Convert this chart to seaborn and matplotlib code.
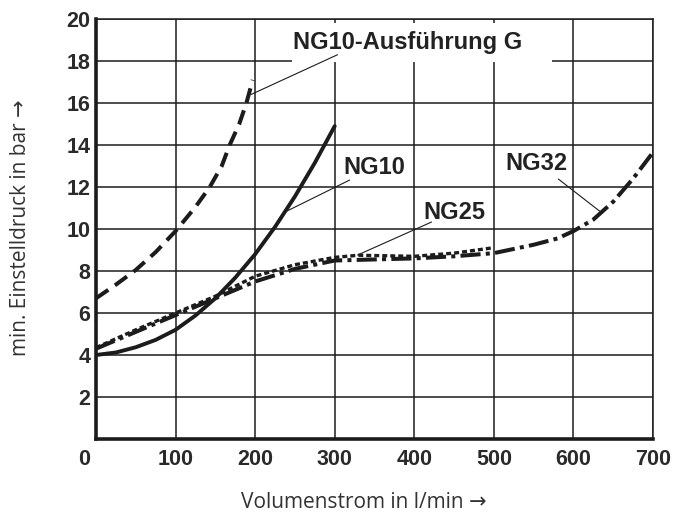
import matplotlib
matplotlib.use("Agg")
import matplotlib.pyplot as plt
import matplotlib.transforms as mtransforms
from matplotlib.patches import Rectangle
import seaborn as sns

# ---- data ----
g_x = [0, 25, 50, 75, 100, 125, 143, 158, 168, 180, 189, 197]
g_y = [6.7, 7.35, 8.05, 8.9, 9.9, 11.05, 12.0, 13.0, 14.0, 15.0, 16.0, 17.1]

ng10_x = [0, 25, 50, 75, 100, 125, 150, 175, 200, 225, 250, 275, 300]
ng10_y = [4.0, 4.12, 4.37, 4.72, 5.2, 5.88, 6.7, 7.68, 8.8, 10.1, 11.55, 13.15, 14.9]

ng25_x = [0, 50, 100, 150, 200, 250, 300, 330, 400, 450, 498]
ng25_y = [4.35, 5.2, 6.0, 6.8, 7.75, 8.3, 8.65, 8.75, 8.7, 8.85, 9.1]

ng32_x = [0, 50, 100, 150, 200, 250, 300, 350, 400, 450, 500, 550, 580, 600, 625, 650, 675, 698]
ng32_y = [4.3, 5.1, 5.9, 6.7, 7.5, 8.1, 8.5, 8.55, 8.6, 8.7, 8.85, 9.25, 9.55, 9.9, 10.45, 11.3, 12.4, 13.55]

x_ticks = [0, 100, 200, 300, 400, 500, 600, 700]
y_ticks = [2, 4, 6, 8, 10, 12, 14, 16, 18, 20]

labels = ["NG10-Ausführung G", "NG10", "NG25", "NG32"]
x_label = "Volumenstrom in l/min →"
y_label = "min. Einstelldruck in bar →"

# ---- style ----
sns.set_style("white")
plt.rcParams["font.family"] = ["Liberation Sans", "DejaVu Sans"]

ink = "#1c1c1c"
fig = plt.figure(figsize=(6.84, 5.13), dpi=100)
ax = fig.add_axes([96 / 684, 74 / 513, 557 / 684, 420 / 513])

sns.lineplot(x=g_x, y=g_y, ax=ax, color=ink, linewidth=2.9,
             linestyle=(0, (3.7, 2.0)), estimator=None, sort=False, zorder=3)
sns.lineplot(x=ng10_x, y=ng10_y, ax=ax, color=ink, linewidth=2.8,
             estimator=None, sort=False, zorder=3)
sns.lineplot(x=ng32_x, y=ng32_y, ax=ax, color=ink, linewidth=2.9,
             linestyle=(0, (5.0, 1.3, 1.0, 1.3)), estimator=None, sort=False, zorder=3)
sns.lineplot(x=ng25_x, y=ng25_y, ax=ax, color=ink, linewidth=2.4,
             linestyle=(0, (1.5, 0.9)), estimator=None, sort=False, zorder=3)

ax.set_xlim(0, 700)
ax.set_ylim(0, 20)
ax.set_xticks(x_ticks)
ax.set_yticks(y_ticks)
ax.set_xticklabels([str(v) for v in x_ticks])
ax.set_yticklabels([str(v) for v in y_ticks])
ax.set_axisbelow(True)
ax.grid(True, color=ink, linewidth=1.1)
ax.tick_params(axis="both", length=0, labelcolor="#2a2a2a")
ax.tick_params(axis="x", pad=7)
ax.tick_params(axis="y", pad=4)
for lab in ax.get_xticklabels() + ax.get_yticklabels():
    lab.set_family(["Liberation Sans", "DejaVu Sans"])
    lab.set_weight("bold")
    lab.set_fontsize(15.5)
# origin label shifted left
zero = ax.get_xticklabels()[0]
zero.set_transform(zero.get_transform() + mtransforms.ScaledTranslation(-12 / 100, 0, fig.dpi_scale_trans))

for side in ["left", "bottom"]:
    ax.spines[side].set_linewidth(2.6)
    ax.spines[side].set_color(ink)
for side in ["top", "right"]:
    ax.spines[side].set_linewidth(1.1)
    ax.spines[side].set_color(ink)

# white box behind the top label
ax.add_patch(Rectangle((246, 17.95), 327, 1.88, facecolor="white",
                       edgecolor="none", zorder=1.5))

lab_kw = dict(fontsize=17, fontweight="bold", color="#222222", zorder=4)
ax.text(247, 18.86, labels[0], ha="left", va="center", **lab_kw)
ax.text(350, 12.95, labels[1], ha="center", va="center", **lab_kw)
ax.text(451, 10.8, labels[2], ha="center", va="center", **lab_kw)
ax.text(554, 13.14, labels[3], ha="center", va="center", **lab_kw)

leader = dict(arrowstyle="-", color=ink, lw=0.8, shrinkA=0, shrinkB=0)
ax.annotate("", xy=(194.5, 16.4), xytext=(303.6, 18.3), arrowprops=leader)
ax.annotate("", xy=(237, 10.8), xytext=(318.7, 12.33), arrowprops=leader)
ax.annotate("", xy=(328.7, 8.76), xytext=(421.6, 10.33), arrowprops=leader)
ax.annotate("", xy=(636, 10.76), xytext=(581, 12.38), arrowprops=leader)

ax.set_xlabel(x_label, fontsize=15, color="#333333", family=["Open Sans", "DejaVu Sans"])
ax.set_ylabel(y_label, fontsize=15, color="#333333", family=["Open Sans", "DejaVu Sans"])
ax.xaxis.label.set_va("center")
ax.yaxis.label.set_va("center")
ax.xaxis.set_label_coords(0.48, -0.15)
ax.yaxis.set_label_coords(-0.136, 0.503)

fig.savefig("out.png", dpi=100)
